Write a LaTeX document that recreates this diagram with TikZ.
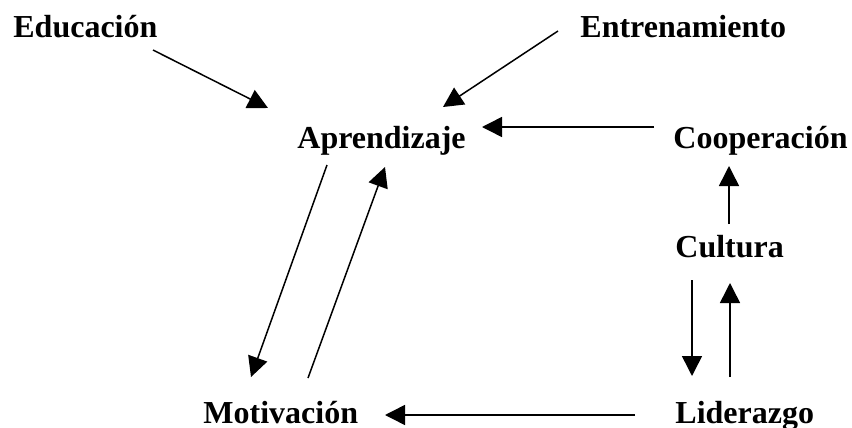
\documentclass[tikz,border=0pt]{standalone}
\usepackage{fontspec}
\setmainfont{Liberation Serif}
\usetikzlibrary{arrows.meta}
\begin{document}
\begin{tikzpicture}[
	x=0.5pt, y=-0.5pt,
	term/.style = {inner sep=0pt, anchor=base west, font=\fontsize{16}{19}\selectfont\bfseries},
	link/.style = {line width=0.75pt, -{Triangle[length=10pt, width=10pt]}},
]
	\useasboundingbox (0,0) rectangle (852,428);

	%% The concepts, placed by their base line
	\node [term] at (13,37) (edu) {Educación};
	\node [term] at (580,37) (ent) {Entrenamiento};
	\node [term] at (297,148) (apr) {Aprendizaje};
	\node [term] at (673,148) (coo) {Cooperación};
	\node [term] at (675,257) (cul) {Cultura};
	\node [term] at (203,423) (mot) {Motivación};
	\node [term] at (675,423) (lid) {Liderazgo};

	%% Draw the connections
	%% start node / shift / end node / shift
	\foreach \u/\ux/\uy/\v/\vx/\vy in {%
		edu/140/13/apr/-29/-40,	% into Aprendizaje
		ent/-22/-6/apr/146/-41,
		coo/-19/-21/apr/185/-21,
		apr/30/17/mot/48/-46,	% down and back up
		mot/105/-45/apr/88/19,
		cul/54/-33/coo/56/18,	% right column
		cul/17/23/lid/17/-47,
		lid/55/-46/cul/55/26,
		lid/-40/-8/mot/182/-8%
	}{%
		\draw [link] ([shift={(\ux,\uy)}]\u.base west) -- ([shift={(\vx,\vy)}]\v.base west);
	}

\end{tikzpicture}
\end{document}
